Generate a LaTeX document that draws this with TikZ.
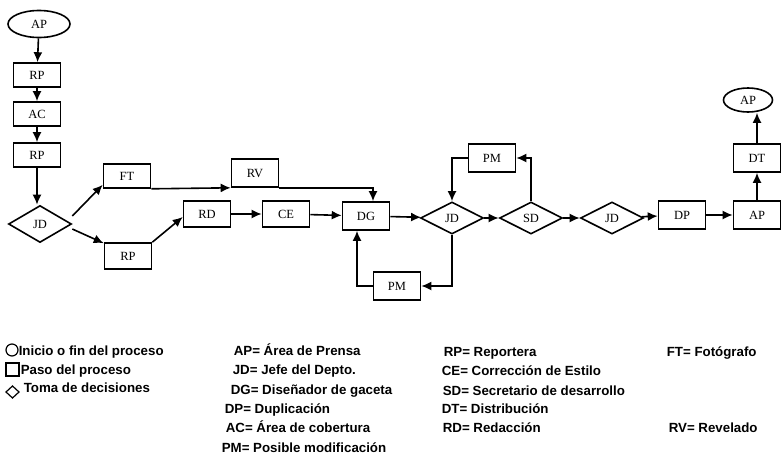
\documentclass[tikz,border=0pt]{standalone}
\usepackage{fontspec}
\setmainfont{Liberation Serif}
\newfontfamily\legfont{Liberation Sans}
\usetikzlibrary{shapes.geometric, arrows.meta}

\begin{document}
\begin{tikzpicture}[x=1pt, y=-1pt, >={Latex[length=10pt,width=9pt]}, line width=1.6pt,
    paso/.style={draw, rectangle, minimum width=47pt, minimum height=24pt, inner sep=0pt, font=\fontsize{12.5}{14}\selectfont},
    inicio/.style={draw, ellipse, minimum width=62pt, minimum height=27pt, inner sep=0pt, font=\fontsize{12.5}{14}\selectfont},
    decision/.style={draw, diamond, minimum width=63pt, minimum height=32pt, inner sep=0pt, font=\fontsize{12.5}{14}\selectfont},
    leyenda/.style={anchor=base west, inner sep=0pt, font=\legfont\bfseries\fontsize{13.3}{15}\selectfont}]
    \useasboundingbox (0,0) rectangle (782,466);

    % Columna de inicio
    \node[inicio] (APi) at (39,24) {AP};
    \node[paso] (RPa) at (37,75) {RP};
    \node[paso] (AC) at (37,114) {AC};
    \node[paso] (RPb) at (37,155) {RP};
    \node[decision, minimum height=37pt] (JDa) at (40,224) {JD};

    % Ramas del jefe
    \node[paso] (FT) at (127,176) {FT};
    \node[paso, minimum height=28pt] (RV) at (255,173) {RV};
    \node[paso, minimum height=26pt] (RPc) at (128,256) {RP};
    \node[paso, minimum height=26pt] (RD) at (207,214) {RD};
    \node[paso, minimum height=26pt] (CE) at (286,214) {CE};
    \node[paso, minimum height=28pt] (DG) at (366,216) {DG};

    % Decisiones y salida
    \node[decision] (JDb) at (452,218) {JD};
    \node[decision] (SD) at (531,218) {SD};
    \node[decision] (JDc) at (612,218) {JD};
    \node[paso, minimum height=28pt] (DP) at (682,215) {DP};
    \node[paso, minimum height=28pt] (APb) at (757,215) {AP};
    \node[paso, minimum height=28pt] (DT) at (757,158) {DT};
    \node[inicio, minimum width=49pt, minimum height=24pt] (APc) at (748,100) {AP};
    \node[paso, minimum height=28pt] (PMa) at (492,158) {PM};
    \node[paso, minimum height=28pt] (PMb) at (397,286) {PM};

    % Flechas
    \draw[->] (APi) -- (RPa);
    \draw[->] (RPa) -- (AC);
    \draw[->] (AC) -- (RPb);
    \draw[->] (RPb) -- (RPb |- JDa.north);
    \draw[->] ([yshift=8pt]JDa.east) -- ([yshift=4pt]FT.south west);
    \draw[->] ([yshift=-5pt]JDa.east) -- ([yshift=-1pt]RPc.north west);
    \draw[->] (RPc.north east) -- ([yshift=-3pt]RD.west);
    \draw[->] (FT.south east) -- (RV.south west);
    \draw[->] (RV.south east) -| ([xshift=7pt]DG.north);
    \draw[->] (RD) -- (CE);
    \draw[->] (CE) -- (DG);
    \draw[->] (DG) -- (JDb);
    \draw[->] (JDb) -- (SD);
    \draw[->] (SD) -- (JDc);
    \draw[->] (JDc) -- (DP);
    \draw[->] (DP) -- (APb);
    \draw[->] (APb) -- (DT);
    \draw[->] (DT.north) -- (DT.north |- APc.south);
    \draw[->] (SD.north) |- (PMa.east);
    \draw[->] (PMa.west) -| (JDb.north);
    \draw[->] (JDb.south) |- (PMb.east);
    \draw[->] (PMb.west) -| ([xshift=-9pt]DG.south);

    % Simbolos de la leyenda
    \draw[line width=1.2pt] (12,350) circle (6);
    \draw[line width=1.2pt] (6,363) rectangle (19,376);
    \draw[line width=1.2pt] (6,392) -- (12.5,386) -- (19,392) -- (12.5,398) -- cycle;

    % Leyenda
    \node[leyenda] (L1) at (18,355) {Inicio o fin del proceso};
    \node[leyenda] (L2) at (20,374) {Paso del proceso};
    \node[leyenda] (L3) at (23,392) {Toma de decisiones};
    \node[leyenda] (L4) at (233,355) {AP= Área de Prensa};
    \node[leyenda] (L5) at (232,374) {JD= Jefe del Depto.};
    \node[leyenda] (L6) at (230,394) {DG= Diseñador de gaceta};
    \node[leyenda] (L7) at (224,413) {DP= Duplicación};
    \node[leyenda] (L8) at (225,432) {AC= Área de cobertura};
    \node[leyenda] (L9) at (221,452) {PM= Posible modificación};
    \node[leyenda] (L10) at (443,356) {RP= Reportera};
    \node[leyenda] (L11) at (441,375) {CE= Corrección de Estilo};
    \node[leyenda] (L12) at (442,395) {SD= Secretario de desarrollo};
    \node[leyenda] (L13) at (441,413) {DT= Distribución};
    \node[leyenda] (L14) at (442,432) {RD= Redacción};
    \node[leyenda] (L15) at (666,356) {FT= Fotógrafo};
    \node[leyenda] (L16) at (668,432) {RV= Revelado};
\end{tikzpicture}
\end{document}
